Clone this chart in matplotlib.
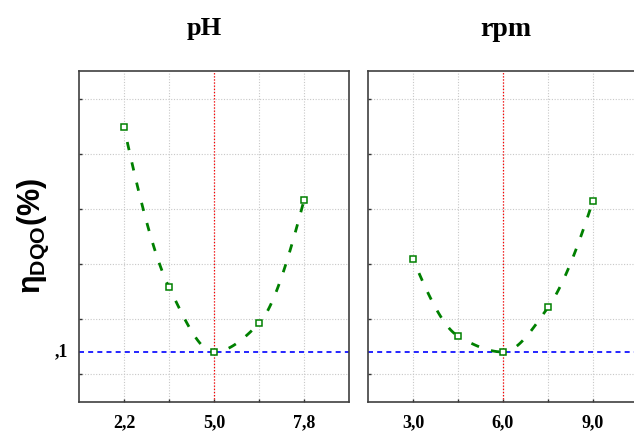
import matplotlib
matplotlib.use("Agg")
import matplotlib.pyplot as plt
import numpy as np

# data
ph_x = [2.2, 3.6, 5.0, 6.4, 7.8]
ph_y = [0.3045, 0.159, 0.100, 0.126, 0.238]
rpm_x = [3.0, 4.5, 6.0, 7.5, 9.0]
rpm_y = [0.1845, 0.1145, 0.100, 0.1405, 0.2375]
ph_ticks = [2.2, 3.6, 5.0, 6.4, 7.8]
ph_labels = ["2,2", "", "5,0", "", "7,8"]
rpm_ticks = [3.0, 4.5, 6.0, 7.5, 9.0]
rpm_labels = ["3,0", "", "6,0", "", "9,0"]
y_grid = [0.08, 0.13, 0.18, 0.23, 0.28, 0.33]
y_ref = 0.1
ph_opt = 5.0
rpm_opt = 6.0

plt.rcParams["mathtext.fontset"] = "custom"
plt.rcParams["mathtext.rm"] = "Liberation Sans:bold"
plt.rcParams["mathtext.bf"] = "Liberation Sans:bold"
plt.rcParams["mathtext.it"] = "Liberation Sans:bold"


def pchip_slopes(x, y):
    # monotone cubic slopes (Fritsch-Carlson), only for drawing the smooth line
    h = np.diff(x)
    d = np.diff(y) / h
    m = np.zeros(len(x))
    for i in range(1, len(x) - 1):
        if d[i - 1] * d[i] > 0:
            w1 = 2 * h[i] + h[i - 1]
            w2 = h[i] + 2 * h[i - 1]
            m[i] = (w1 + w2) / (w1 / d[i - 1] + w2 / d[i])
    m[0] = ((2 * h[0] + h[1]) * d[0] - h[0] * d[1]) / (h[0] + h[1])
    if np.sign(m[0]) != np.sign(d[0]):
        m[0] = 0
    m[-1] = ((2 * h[-1] + h[-2]) * d[-1] - h[-1] * d[-2]) / (h[-1] + h[-2])
    if np.sign(m[-1]) != np.sign(d[-1]):
        m[-1] = 0
    return m


def draw_curve(ax, xs, ys, **kw):
    x = np.asarray(xs, float)
    y = np.asarray(ys, float)
    m = pchip_slopes(x, y)
    for i in range(len(x) - 1):
        h = x[i + 1] - x[i]
        t = np.linspace(0, 1, 60)
        h00 = 2 * t ** 3 - 3 * t ** 2 + 1
        h10 = t ** 3 - 2 * t ** 2 + t
        h01 = -2 * t ** 3 + 3 * t ** 2
        h11 = t ** 3 - t ** 2
        yy = h00 * y[i] + h10 * h * m[i] + h01 * y[i + 1] + h11 * h * m[i + 1]
        ax.plot(x[i] + t * h, yy, **kw)


fig = plt.figure(figsize=(6.34, 4.33), dpi=100)
W, H = 634.0, 433.0
ax1 = fig.add_axes([79 / W, 1 - 402 / H, 270 / W, 331 / H])
ax2 = fig.add_axes([368 / W, 1 - 402 / H, 270 / W, 331 / H])

green = "#008000"
serif = "Liberation Serif"

panels = [
    (ax1, ph_x, ph_y, ph_ticks, ph_labels, ph_opt, (0.8, 9.2)),
    (ax2, rpm_x, rpm_y, rpm_ticks, rpm_labels, rpm_opt, (1.5, 10.5)),
]
for ax, xs, ys, ticks, labels, opt, xlim in panels:
    draw_curve(ax, xs, ys, color=green, lw=2.0, linestyle=(2, (3, 4.5)),
               solid_capstyle="butt", dash_capstyle="butt", zorder=3)
    ax.plot(xs, ys, linestyle="none", marker="s", ms=5, mfc="white",
            mec=green, mew=1.1, zorder=4)
    ax.axvline(opt, color="#ff0000", lw=0.9, linestyle=(0, (1, 1.5)), zorder=2)
    ax.axhline(y_ref, color="#0000ff", lw=1.2, linestyle=(0, (3, 2.5)), zorder=2)
    ax.set_xlim(*xlim)
    ax.set_ylim(0.0545, 0.3555)
    ax.set_xticks(ticks)
    ax.set_xticklabels(labels, fontfamily=serif, fontweight="bold", fontsize=13)
    ax.set_yticks(y_grid)
    ax.set_yticklabels([])
    ax.grid(True, color="#c8c8c8", lw=0.8, linestyle=(0, (1, 1.5)))
    ax.tick_params(direction="in", length=2.5, width=1.0, color="#333333", pad=9)
    for s in ax.spines.values():
        s.set_color("#404040")
        s.set_linewidth(1.2)
    ax.set_axisbelow(True)

ax1.text(-0.04, (y_ref - 0.0545) / (0.3555 - 0.0545), ",1", transform=ax1.transAxes,
         ha="right", va="center", fontfamily=serif, fontweight="bold", fontsize=13)

fig.text(204 / W, 1 - 28 / H, "pH", ha="center", va="center",
         fontfamily=serif, fontweight="bold", fontsize=19)
fig.text(506 / W, 1 - 30 / H, "rpm", ha="center", va="center",
         fontfamily=serif, fontweight="bold", fontsize=20)
fig.text(33 / W, 1 - 236 / H, r"$\eta_{DQO}$(%)", rotation=90, ha="center", va="center",
         fontfamily="Liberation Sans", fontweight="bold", fontsize=22)

fig.savefig("out.png", dpi=100)
